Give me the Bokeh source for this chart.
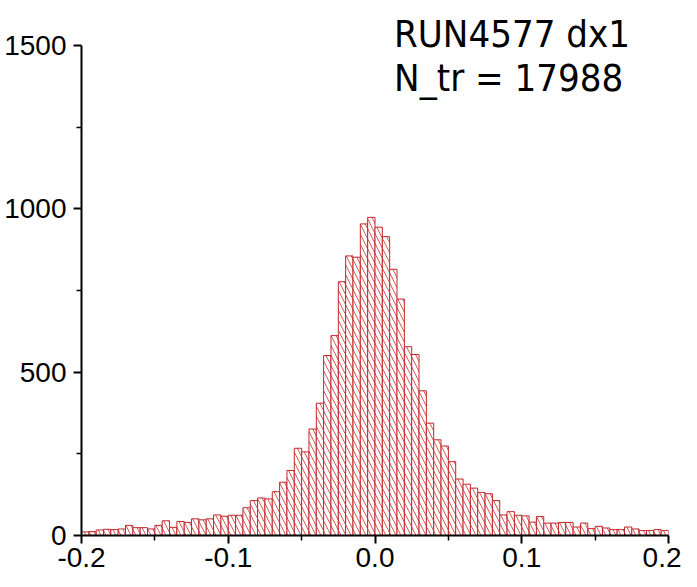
from bokeh.plotting import figure
from bokeh.models import FixedTicker, NumeralTickFormatter, Label, Range1d, ColumnDataSource
from bokeh.embed import file_html
from bokeh.resources import INLINE

# Histogram: bins of width 0.005 from -0.2 to 0.2
x_start = -0.2
bin_width = 0.005
counts = [
    11, 12, 17, 19, 18, 20, 31, 24, 24, 20,
    31, 45, 25, 43, 40, 51, 48, 51, 63, 59,
    62, 62, 85, 107, 115, 112, 134, 163, 199, 267,
    256, 326, 405, 551, 612, 777, 856, 852, 954, 974,
    944, 915, 815, 724, 578, 554, 443, 344, 293, 274,
    226, 173, 157, 145, 132, 128, 107, 63, 73, 62,
    60, 41, 58, 38, 38, 40, 40, 26, 38, 21,
    28, 23, 18, 18, 26, 20, 15, 15, 18, 15,
]
x_ticks = [-0.2, -0.1, 0.0, 0.1, 0.2]
x_minor = [-0.15, -0.05, 0.05, 0.15]
y_ticks = [0, 500, 1000, 1500]
y_minor = [250, 750, 1250]
title_lines = ["RUN4577 dx1", "N_tr = 17988"]
title_y = [1534, 1402]

left = [x_start + i * bin_width for i in range(len(counts))]
right = [l + bin_width for l in left]
src = ColumnDataSource(dict(left=left, right=right, top=counts))

# frame extends above 1500 so the title (drawn inside the frame) is not clipped
p = figure(width=681, height=579, output_backend="svg", toolbar_location=None,
           x_range=Range1d(-0.2, 0.2), y_range=Range1d(0, 1638),
           min_border_left=81, min_border_right=13, min_border_top=0, min_border_bottom=44)
p.outline_line_color = None
p.xgrid.visible = False
p.ygrid.visible = False

p.quad(left="left", right="right", bottom=0, top="top", source=src,
       fill_color="white", line_color="#c0282a", line_width=1,
       hatch_pattern="\\", hatch_color="#d85a5a", hatch_scale=10, hatch_weight=1)

for ax in (p.xaxis[0], p.yaxis[0]):
    ax.axis_line_color = "black"
    ax.axis_line_width = 2
    ax.major_tick_line_color = "black"
    ax.major_tick_line_width = 2
    ax.minor_tick_line_color = "black"
    ax.minor_tick_line_width = 1.5
    ax.major_tick_in = 0
    ax.major_tick_out = 8
    ax.minor_tick_in = 0
    ax.minor_tick_out = 5
    ax.major_label_text_font = "Liberation Sans"
    ax.major_label_text_font_size = "28px"
    ax.major_label_text_color = "black"

p.yaxis.bounds = (0, 1500)
p.xaxis.ticker = FixedTicker(ticks=x_ticks, minor_ticks=x_minor)
p.yaxis.ticker = FixedTicker(ticks=y_ticks, minor_ticks=y_minor)
p.xaxis.formatter = NumeralTickFormatter(format="0.0")
p.yaxis.formatter = NumeralTickFormatter(format="0")
p.xaxis.major_label_standoff = 4
p.yaxis.major_label_standoff = 7

for txt, yv in zip(title_lines, title_y):
    p.add_layout(Label(x=0.013, y=yv, text=txt, text_font="DejaVu Sans Condensed",
                       text_font_size="38px", text_color="black",
                       text_baseline="alphabetic", text_align="left"))

open("out.html", "w").write(file_html(p, INLINE))
